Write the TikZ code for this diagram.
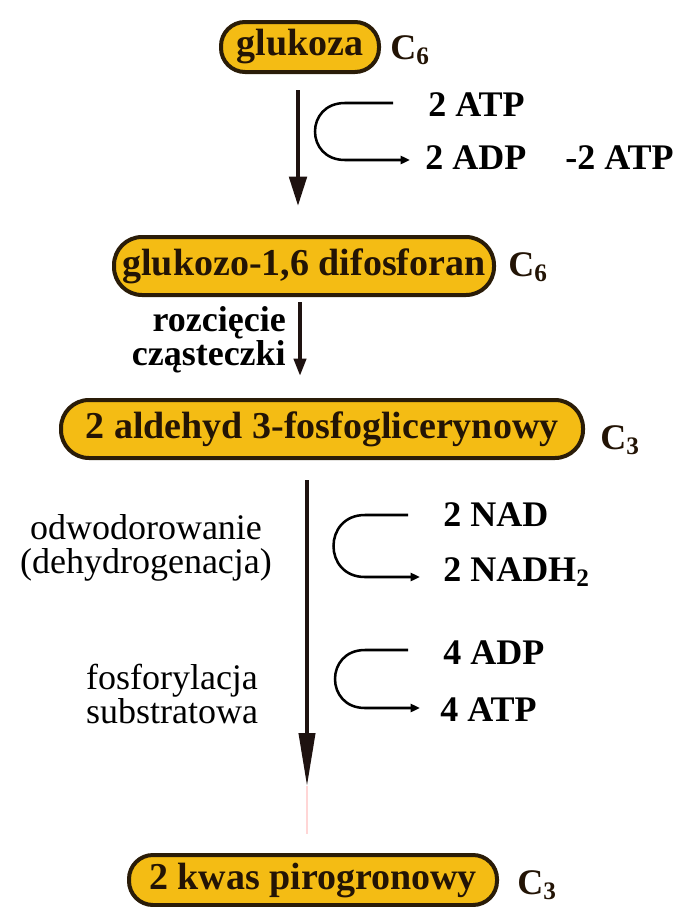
\documentclass[tikz,border=0pt]{standalone}
\usepackage{fontspec}
\setmainfont{Liberation Serif}
\usetikzlibrary{arrows.meta}
\definecolor{gold}{HTML}{F4BC14}
\definecolor{rim}{HTML}{2A1C08}
\definecolor{ink}{HTML}{231405}
\definecolor{shaft}{HTML}{1E1210}
\tikzset{
  stage/.style={draw=rim, line width=3pt, fill=gold, inner sep=0pt,
    font=\bfseries\fontsize{28.5}{30}\selectfont, text=ink},
  carbon/.style={anchor=west, inner sep=0pt, text=ink,
    font=\bfseries\fontsize{27}{30}\selectfont},
  side/.style={anchor=west, inner sep=0pt,
    font=\bfseries\fontsize{27}{30}\selectfont},
  note/.style={inner sep=0pt, align=center,
    font=\fontsize{27}{25.5}\selectfont},
  flow/.style={draw=shaft, line width=3pt},
  turn/.style={line width=1.9pt, -{Triangle[length=7pt,width=6pt]}},
}
\begin{document}
\begin{tikzpicture}[x=0.75pt, y=-0.75pt]
  \useasboundingbox (0,0) rectangle (678,907);

  % metabolites along the pathway
  \node[stage, minimum width=118.5pt, minimum height=37.5pt, rounded corners=18pt]
    (glc) at (300,47) {glukoza};
  \node[stage, minimum width=285pt, minimum height=43.5pt, rounded corners=21pt]
    (fbp) at (304,266) {glukozo-1,6 difosforan};
  \node[stage, minimum width=391.5pt, minimum height=43.5pt, rounded corners=21pt]
    (gap) at (322,429) {2 aldehyd 3-fosfoglicerynowy};
  \node[stage, minimum width=276pt, minimum height=37.5pt, rounded corners=18pt]
    (pyr) at (313,880) {2 kwas pirogronowy};

  % carbon counts
  \node[carbon] (cglc) at (390,50) {C\textsubscript{6}};
  \node[carbon] (cfbp) at (508,267) {C\textsubscript{6}};
  \node[carbon] (cgap) at (600,440) {C\textsubscript{3}};
  \node[carbon] (cpyr) at (517,885) {C\textsubscript{3}};

  % main flow
  \draw[flow, -{Triangle[length=22pt,width=13pt]}]
    ([xshift=-1.5pt,yshift=-12pt]glc.south) -- ([xshift=-4.5pt,yshift=21.75pt]fbp.north);
  \draw[flow, -{Triangle[length=13pt,width=9pt]}]
    ([xshift=-3pt,yshift=-3.75pt]fbp.south) -- ([xshift=-16.5pt,yshift=16.5pt]gap.north);
  \draw[pink!65, line width=2pt]
    ([xshift=-4.5pt,yshift=50pt]pyr.north) -- ([xshift=-4.5pt,yshift=14pt]pyr.north);
  \draw[flow, -{Triangle[length=40pt,width=12pt]}]
    ([xshift=-11.25pt,yshift=-15pt]gap.south) -- ([xshift=-4.5pt,yshift=50pt]pyr.north);

  % step 1: ATP investment
  \node[side] (atpin) at (428,105) {2 ATP};
  \node[side] (adpout) at (425,158) {2 ADP};
  \node[side] (net) at (565,158) {-2 ATP};
  \coordinate (t1s) at (393,103);
  \coordinate (t1e) at (410,160);
  \draw[turn] (t1s) -- (345,103) .. controls +(-40,0) and +(-40,0) .. (345,160) -- (t1e);

  % step 2: cleavage
  \node[anchor=east, inner sep=0pt, align=right,
    font=\bfseries\fontsize{27}{22.5}\selectfont] (cut) at (286,340)
    {rozcięcie\\cząsteczki};

  % step 3: dehydrogenation
  \node[note] (dehyd) at (146,548) {odwodorowanie\\(dehydrogenacja)};
  \node[side] (nad) at (443,515) {2 NAD};
  \node[side] (nadh) at (443,572) {2 NADH\textsubscript{2}};
  \coordinate (t2s) at (408,515);
  \coordinate (t2e) at (420,577);
  \draw[turn] (t2s) -- (365,515) .. controls +(-42,0) and +(-42,0) .. (365,577) -- (t2e);

  % step 4: substrate-level phosphorylation
  \node[note] (phos) at (172,694) {fosforylacja\\substratowa};
  \node[side] (adp4) at (443,653) {4 ADP};
  \node[side] (atp4) at (440,710) {4 ATP};
  \coordinate (t3s) at (408,650);
  \coordinate (t3e) at (420,708);
  \draw[turn] (t3s) -- (365,650) .. controls +(-40,0) and +(-40,0) .. (365,708) -- (t3e);
\end{tikzpicture}
\end{document}
